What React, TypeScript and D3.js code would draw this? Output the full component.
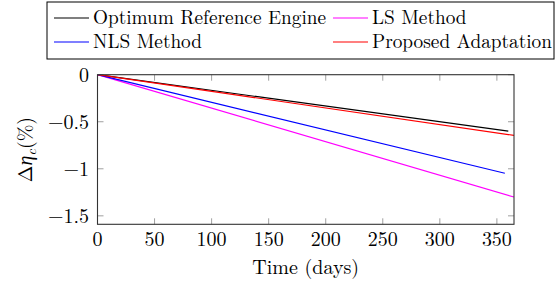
import React from "react";
import * as d3 from "d3";

const seriesNames = ["Optimum Reference Engine", "LS Method", "NLS Method", "Proposed Adaptation"];
const seriesColors = ["#000000", "#ff00ff", "#0000ff", "#ff0000"];
const optimumDays = [0, 360];
const optimumValues = [0, -0.6];
const lsDays = [0, 365];
const lsValues = [0, -1.3];
const nlsDays = [0, 357];
const nlsValues = [0, -1.047];
const proposedDays = [0, 365];
const proposedValues = [0, -0.645];
const xTicks = [0, 50, 100, 150, 200, 250, 300, 350];
const yTicks = [0, -0.5, -1, -1.5];

const W = 555, H = 286;
const L = 97.5, R = 514, T = 74.7, B = 224.3;
const FONT = `"Latin Modern Roman"`;

export default function App() {
  const x = d3.scaleLinear().domain([0, 365]).range([L, R]);
  const y = d3.scaleLinear().domain([-1.59, 0]).range([B, T]);
  const line = d3.line<[number, number]>().x(d => x(d[0])).y(d => y(d[1]));
  const series = [
    { days: optimumDays, values: optimumValues, color: seriesColors[0] },
    { days: lsDays, values: lsValues, color: seriesColors[1] },
    { days: nlsDays, values: nlsValues, color: seriesColors[2] },
    { days: proposedDays, values: proposedValues, color: seriesColors[3] },
  ];
  const fmt = (v: number) => (v < 0 ? "\u2212" + String(Math.abs(v)) : String(v));
  const tickLen = 6;
  const legendItems = [
    { name: seriesNames[0], color: seriesColors[0], lx: 54, ty: 18 },
    { name: seriesNames[1], color: seriesColors[1], lx: 333, ty: 18 },
    { name: seriesNames[2], color: seriesColors[2], lx: 54, ty: 42 },
    { name: seriesNames[3], color: seriesColors[3], lx: 333, ty: 42 },
  ];
  const ts = { fontFamily: FONT, fill: "#000" } as React.CSSProperties;
  return (
    <svg width={W} height={H} style={{ position: "absolute", left: 0, top: 0, background: "#fff" }}>
      <defs>
        <clipPath id="plotclip">
          <rect x={L} y={T} width={R - L} height={B - T} />
        </clipPath>
      </defs>
      {xTicks.map(t => (
        <g key={"xt" + t} stroke="#888" strokeWidth={0.8}>
          <line x1={x(t)} x2={x(t)} y1={B} y2={B - tickLen} />
          <line x1={x(t)} x2={x(t)} y1={T} y2={T + tickLen} />
        </g>
      ))}
      {yTicks.map(t => (
        <g key={"yt" + t} stroke="#888" strokeWidth={0.8}>
          <line x1={L} x2={L + tickLen} y1={y(t)} y2={y(t)} />
          <line x1={R} x2={R - tickLen} y1={y(t)} y2={y(t)} />
        </g>
      ))}
      <g clipPath="url(#plotclip)">
        {series.map((s, i) => (
          <path key={i} d={line(s.days.map((d, j) => [d, s.values[j]] as [number, number])) || ""} fill="none" stroke={s.color} strokeWidth={1.2} />
        ))}
      </g>
      <rect x={L} y={T} width={R - L} height={B - T} fill="none" stroke="#333" strokeWidth={1.1} />
      {xTicks.map(t => (
        <text key={"xl" + t} x={x(t)} y={246} textAnchor="middle" fontSize={20} style={ts}>{fmt(t)}</text>
      ))}
      {yTicks.map(t => (
        <text key={"yl" + t} x={89} y={y(t) + 7} textAnchor="end" fontSize={20} style={ts}>{fmt(t)}</text>
      ))}
      <text x={(L + R) / 2} y={274} textAnchor="middle" fontSize={20} style={ts}>Time (days)</text>
      <text transform={`translate(32, ${(T + B) / 2}) rotate(-90)`} textAnchor="middle" fontSize={20} style={ts}>
        <tspan>Δ</tspan><tspan fontStyle="italic">η</tspan><tspan fontSize={14} fontStyle="italic" dy={4}>c</tspan><tspan dy={-4}>(%)</tspan>
      </text>
      <rect x={47} y={2} width={507} height={57} fill="#fff" stroke="#000" strokeWidth={1} />
      {legendItems.map((it, i) => (
        <g key={"lg" + i}>
          <line x1={it.lx} x2={it.lx + 35} y1={it.ty} y2={it.ty} stroke={it.color} strokeWidth={1.2} />
          <text x={it.lx + 39} y={it.ty + 6} fontSize={19.3} style={ts}>{it.name}</text>
        </g>
      ))}
    </svg>
  );
}
